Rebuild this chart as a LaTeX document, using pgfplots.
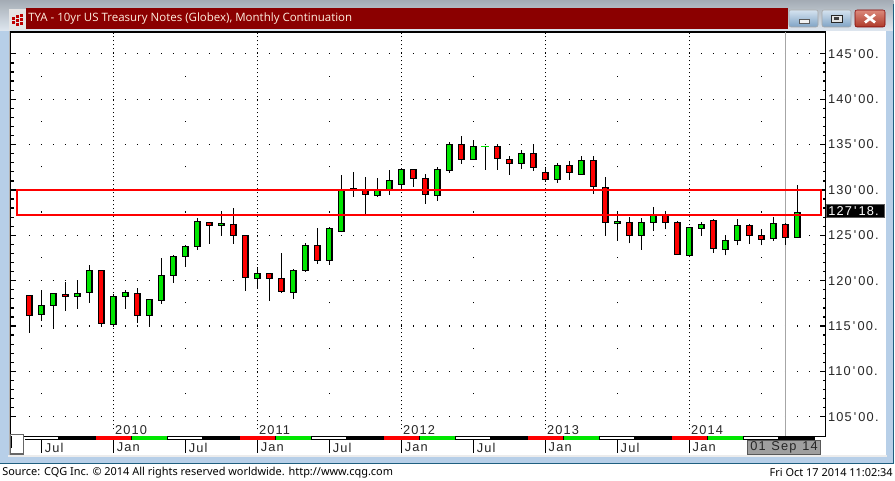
\documentclass[border=0pt]{standalone}
\usepackage{pgfplots}
\usepackage{pgfplotstable}
\usepackage{fontspec}
\pgfplotsset{compat=1.18}
\setmainfont{Liberation Sans}
\newfontfamily\chartfont[LetterSpace=9,Ligatures=NoCommon]{Liberation Sans}
\newfontfamily\uifont{Open Sans}
\newfontfamily\footfont{Noto Sans}
\definecolor{frameblue}{HTML}{B7CFE8}
\definecolor{topblue}{HTML}{C9D7E6}
\definecolor{edgeteal}{HTML}{1F5F80}
\definecolor{titlered}{HTML}{8B0000}
\definecolor{upgreen}{HTML}{00E600}
\definecolor{downred}{HTML}{FF0000}
\definecolor{btntop}{HTML}{D5E3F0}
\definecolor{btnbot}{HTML}{7FA3C5}
\definecolor{closetop}{HTML}{DC8A7C}
\definecolor{closebot}{HTML}{AE3A2A}
\tikzset{lbl/.style={anchor=west,inner sep=0pt,font=\chartfont\fontsize{9.6pt}{11pt}\selectfont,text=black!85}}
\newcommand\q{\kern1.6pt'\kern1.6pt}

% one row per month, i=0 is Jan 2010: low, body bottom, body top, high
\pgfplotstableread{
i   low     bot     top     high    col
-7  114.26  116.18  118.38  118.42  downred
-6  115.59  116.29  117.28  118.97  upgreen
-5  114.71  117.28  118.60  118.60  upgreen
-4  116.69  118.27  118.49  119.85  downred
-3  116.91  118.27  118.60  120.07  upgreen
-2  117.57  118.71  121.14  121.73  upgreen
-1  114.93  115.29  121.14  121.14  downred
0   114.93  115.18  118.27  118.49  upgreen
1   116.91  118.27  118.71  118.93  upgreen
2   115.37  116.18  118.60  119.19  downred
3   114.93  116.18  117.94  117.94  upgreen
4   117.46  117.83  120.59  122.46  upgreen
5   119.78  120.59  122.68  122.79  upgreen
6   121.54  122.68  123.78  123.89  upgreen
7   123.42  123.78  126.54  126.91  upgreen
8   124.08  126.10  126.43  126.43  downred
9   125.00  126.10  126.32  127.64  upgreen
10  124.08  125.00  126.21  127.97  downred
11  118.90  120.37  125.00  125.00  downred
12  119.23  120.26  120.81  121.47  upgreen
13  117.79  120.26  120.81  120.81  downred
14  118.68  118.82  120.26  123.01  downred
15  118.01  118.71  121.14  121.25  upgreen
16  120.99  121.14  123.89  124.11  upgreen
17  121.87  122.24  123.89  125.77  downred
18  121.76  122.24  125.77  125.88  upgreen
19  125.33  125.44  130.07  131.61  upgreen
20  129.26  130.07  130.18  131.94  upgreen
21  127.20  129.52  130.07  131.39  downred
22  129.26  129.41  129.99  131.28  upgreen
23  129.48  129.99  131.06  132.16  upgreen
24  130.07  130.62  132.27  132.27  upgreen
25  130.36  131.28  132.27  132.27  downred
26  128.49  129.52  131.28  131.72  downred
27  128.82  129.41  132.27  132.49  upgreen
28  131.91  132.16  135.03  135.25  upgreen
29  132.90  133.38  135.03  135.95  downred
30  133.38  133.38  134.81  135.47  upgreen
31  132.24  134.80  134.81  134.88  upgreen
32  132.24  133.49  134.81  134.92  downred
33  131.69  132.93  133.38  133.71  downred
34  132.35  132.93  134.04  134.37  upgreen
35  132.13  132.49  134.04  134.92  downred
36  130.91  131.17  131.94  132.49  downred
37  130.80  131.17  132.71  132.93  upgreen
38  131.13  131.94  132.71  133.16  downred
39  131.72  131.72  133.27  133.71  upgreen
40  129.59  130.40  133.27  133.71  downred
41  124.96  126.43  130.29  131.39  downred
42  124.41  126.32  126.54  127.42  upgreen
43  124.11  125.00  126.43  127.05  downred
44  123.38  125.00  126.43  126.87  upgreen
45  125.51  126.43  127.20  128.08  upgreen
46  125.66  126.43  127.20  127.64  downred
47  122.90  122.90  126.43  126.54  downred
48  122.79  122.79  125.88  125.95  upgreen
49  125.00  125.77  126.21  126.43  upgreen
50  123.09  123.56  126.65  126.76  downred
51  122.79  123.45  124.45  125.00  upgreen
52  123.89  124.45  126.10  126.76  upgreen
53  124.04  125.00  126.10  126.21  downred
54  123.89  124.56  125.00  125.66  downred
55  124.41  124.67  126.32  126.98  upgreen
56  123.97  124.78  126.21  126.32  downred
57  124.78  124.78  127.53  130.51  upgreen
}\candles

\begin{document}
\begin{tikzpicture}
\path[use as bounding box] (0,0) rectangle (671.25pt,-360.75pt);

% window frame, in screen pixels
\begin{scope}[x=.75pt,y=-.75pt]
\fill[frameblue] (0,1) rectangle (893.5,463);
\shade[top color=topblue!70!black!80,bottom color=topblue!60!white] (0,0) rectangle (893.5,31);
\fill[white] (10,31) rectangle (886,455);
\fill[gray!15] (8,455) rectangle (887,456.5);
\draw[edgeteal,line width=.9pt] (0,463.5) -- (893.5,463.5) -- (893.5,4);
\fill[gray!60] (9,31) rectangle (10.5,455);
\fill[gray!20] (9,9) rectangle (26,30);
\fill[titlered] (26,8.3) rectangle (788,29);
\foreach \a/\b in {12/17,12/21,16/15,16/19,20/14,20/18,20/22,16/23}
  \fill[red!75!black] (\a,\b) rectangle ++(3,3);
\node[anchor=west,inner sep=0,text=white!88!orange,font=\uifont\fontsize{8.62pt}{11pt}\selectfont] at (28,19) {TYA - 10yr US Treasury Notes (Globex), Monthly Continuation};
% buttons
\shade[top color=btntop,bottom color=btnbot,rounded corners=1.5pt,draw=gray!70] (789,10) rectangle (818,27);
\shade[top color=btntop,bottom color=btnbot,rounded corners=1.5pt,draw=gray!70] (822,10) rectangle (851,27);
\shade[top color=closetop,bottom color=closebot,rounded corners=1.5pt,draw=red!50!black] (855,10) rectangle (885,27);
\fill[white!90!gray,draw=gray!70!black] (799,19) rectangle (809,23);
\draw[gray!30!black,fill=white!80!gray,line width=.7pt] (831,15) rectangle (842,22);
\fill[gray!50!black] (834,17.5) rectangle (839,20);
\draw[white,line width=2pt] (865,14.5) -- (875,22.5) (865,22.5) -- (875,14.5);
% footer
\node[anchor=west,inner sep=0,text=black,font=\footfont\fontsize{8.2pt}{10pt}\selectfont] at (2,472.5) {Source: CQG Inc. © 2014 All rights reserved worldwide. http://www.cqg.com};
\node[anchor=east,inner sep=0,text=black,font=\footfont\fontsize{8.2pt}{10pt}\selectfont] at (893,472.5) {Fri Oct 17 2014 11:02:34};
\end{scope}

\begin{axis}[
    at={(7.875pt,-327.375pt)}, anchor=south west,
    scale only axis, width=611.4pt, height=303.375pt,
    xmin=-8.567, xmax=59.37,
    ymin=102.82, ymax=147.41,
    clip=false,
    axis line style={black,line width=1.1pt},
    xtick={-6,0,...,48},
    xticklabels={Jul,Jan,Jul,Jan,Jul,Jan,Jul,Jan,Jul,Jan},
    xtick style={draw=none},
    xtick pos=bottom,
    xticklabel style={lbl,xshift=2.4pt,yshift=-8.2pt},
    ytick={105,110,...,145},
    yticklabels={105\q00.,110\q00.,115\q00.,120\q00.,125\q00.,130\q00.,135\q00.,140\q00.,145\q00.},
    yticklabel pos=right,
    ytick pos=both,
    minor y tick num=4,
    major tick length=4.2pt,
    minor tick length=2.3pt,
    ytick style={black,line width=.95pt},
    minor y tick style={black,line width=.95pt},
    yticklabel style={lbl,xshift=1.6pt},
]
% chart dots: one every month on the 5-point rows
\pgfplotsinvokeforeach{105,110,...,145}{
  \addplot[black,line width=.9pt,dash pattern=on .9pt off 8.1pt] coordinates {(-7.03,#1)(58.1,#1)};
}
% sparse dots on the half rows, July columns
\pgfplotsinvokeforeach{-6,6,...,54}{
  \addplot[black,line width=.9pt,dash pattern=on .9pt off 33.11pt] coordinates {(#1,107.5)(#1,142.6)};
}
% dotted year lines
\pgfplotsinvokeforeach{0,12,...,48}{
  \addplot[black,line width=.9pt,dash pattern=on .9pt off 2.1pt] coordinates {(#1,103.6)(#1,147.3)};
}
% month ticks under the strip
\pgfplotsinvokeforeach{-6,0,...,54}{
  \addplot[black,line width=.85pt] coordinates {(#1,102.82)(#1,101.0)};
}
% cursor
\addplot[black!35,line width=.75pt] coordinates {(56,102.82)(56,147.41)};

% candles: wick, then body
\pgfplotsinvokeforeach{0,...,64}{
  \pgfplotstablegetelem{#1}{i}\of\candles\let\ci\pgfplotsretval
  \pgfplotstablegetelem{#1}{low}\of\candles\let\cl\pgfplotsretval
  \pgfplotstablegetelem{#1}{bot}\of\candles\let\cb\pgfplotsretval
  \pgfplotstablegetelem{#1}{top}\of\candles\let\ct\pgfplotsretval
  \pgfplotstablegetelem{#1}{high}\of\candles\let\ch\pgfplotsretval
  \pgfplotstablegetelem{#1}{col}\of\candles\let\cc\pgfplotsretval
  \pgfmathsetmacro\xa{\ci-0.22}
  \pgfmathsetmacro\xb{\ci+0.22}
  \edef\temp{\noexpand\addplot[black,line width=.95pt] coordinates {(\ci,\cl)(\ci,\ch)};
    \noexpand\addplot[draw=black,fill=\cc,line width=.95pt] coordinates {(\xa,\cb)(\xb,\cb)(\xb,\ct)(\xa,\ct)} --cycle;}
  \temp
}
\addplot[upgreen,line width=.95pt] coordinates {(30.65,134.81)(31.35,134.81)};

% support/resistance box
\draw[red,line width=1.3pt] (axis cs:-8.05,130) rectangle (axis cs:59,127.2);

\node[lbl] at (axis cs:0.13,103.5) {2010};
\node[lbl] at (axis cs:12.13,103.5) {2011};
\node[lbl] at (axis cs:24.13,103.5) {2012};
\node[lbl] at (axis cs:36.13,103.5) {2013};
\node[lbl] at (axis cs:48.13,103.5) {2014};
\end{axis}

\begin{scope}[x=.75pt,y=-.75pt]
% quarter strip
\fill[black] (25,436) rectangle (815,439.8);
\foreach \o in {0,144,288,432,576}{
  \fill[white] (\o+24,436.8) rectangle (\o+58,439);
  \fill[white] (\o+168,436.8) rectangle (\o+202,439);
  \fill[downred] (\o+96,436.3) rectangle (\o+130.5,439.5);
  \fill[upgreen] (\o+132,436.3) rectangle (\o+166.5,439.5);
}
% slider
\draw[gray!80!black,fill=white,line width=.9pt] (10.5,434.5) rectangle (23.5,454);
\draw[black,line width=.9pt] (11.7,436) -- (11.7,448);
% date box
\fill[gray!75,draw=gray!70!black] (747,440) rectangle (820.5,454);
\node[lbl] at (750,447) {01\ \kern.8pt Sep\ \kern.8pt 14};
% price tag
\fill[black,draw=gray!70!black,line width=.75pt] (826,204.5) rectangle (884.5,217.5);
\node[lbl,text=white] at (828,211) {127\q18.};
\end{scope}
\end{tikzpicture}
\end{document}
